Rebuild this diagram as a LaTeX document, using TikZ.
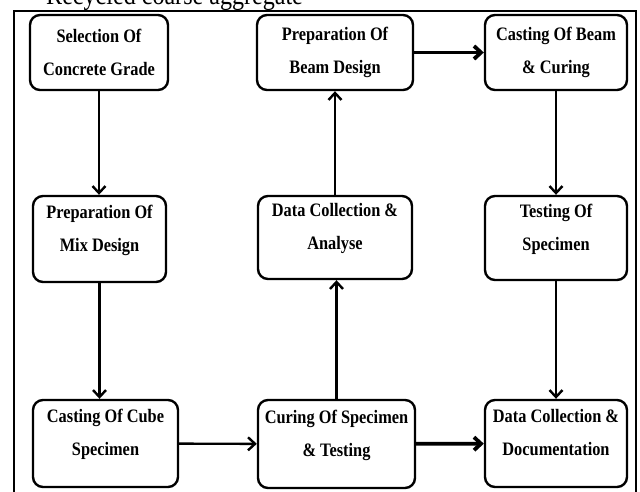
\documentclass[tikz,border=0pt]{standalone}
\usepackage{fontspec}
\setmainfont{Liberation Serif}[FakeStretch=0.86]
\usetikzlibrary{arrows.meta}
\tikzset{
  stage/.style={draw, line width=2.4pt, rounded corners=10pt, align=center,
    font=\bfseries\fontsize{19}{33}\selectfont, inner sep=0pt},
  lowstage/.style={stage, text depth=22pt},
  flow/.style={line width=2.4pt, -{Straight Barb[length=7pt,width=13pt]}},
  bigflow/.style={flow, line width=3.8pt}
}
\begin{document}
\begin{tikzpicture}[x=1pt,y=-1pt]
\useasboundingbox (0,0) rectangle (640,491);
\clip (0,0) rectangle (640,491);
% heading cut off by the page edge
\node[anchor=base west, font=\fontsize{28}{30}\selectfont, inner sep=0pt] (heading) at (46,4) {Recycled coarse aggregate};
\draw[line width=1.8pt] (14,520) -- (14,11) -- (636,11) -- (636,520);
% first row
\node[stage, minimum width=138pt, minimum height=75pt] (grade) at (99,52.5) {Selection Of\\Concrete Grade};
\node[stage, minimum width=156pt, minimum height=75pt] (beamdesign) at (335,52.5) {Preparation Of\\Beam Design};
\node[stage, minimum width=142pt, minimum height=75pt] (beamcast) at (556,52.5) {Casting Of Beam\\\& Curing};
% second row
\node[lowstage, minimum width=133pt, minimum height=86pt] (mix) at (99.5,239) {Preparation Of\\Mix Design};
\node[lowstage, minimum width=154pt, minimum height=83pt] (analyse) at (335,237.5) {Data Collection \&\\Analyse};
\node[lowstage, minimum width=142pt, minimum height=84pt] (testing) at (556,238) {Testing Of\\Specimen};
% third row
\node[lowstage, minimum width=145pt, minimum height=87pt] (cube) at (105.5,443.5) {Casting Of Cube\\Specimen};
\node[lowstage, minimum width=157pt, minimum height=88pt] (curing) at (336.5,444) {Curing Of Specimen\\\& Testing};
\node[lowstage, minimum width=142pt, minimum height=87pt] (docs) at (556,443.5) {Data Collection \&\\Documentation};
% arrows
\draw[flow] (grade) -- (grade |- mix.north);
\draw[flow] (mix) -- (mix |- cube.north);
\draw[flow] (cube) -- (curing);
\draw[flow] (curing) -- (curing |- analyse.south);
\draw[flow] (analyse) -- (beamdesign);
\draw[bigflow] (beamdesign) -- (beamcast);
\draw[flow] (beamcast) -- (testing);
\draw[flow] (testing) -- (docs);
\draw[bigflow] (curing) -- (docs);
\end{tikzpicture}
\end{document}
